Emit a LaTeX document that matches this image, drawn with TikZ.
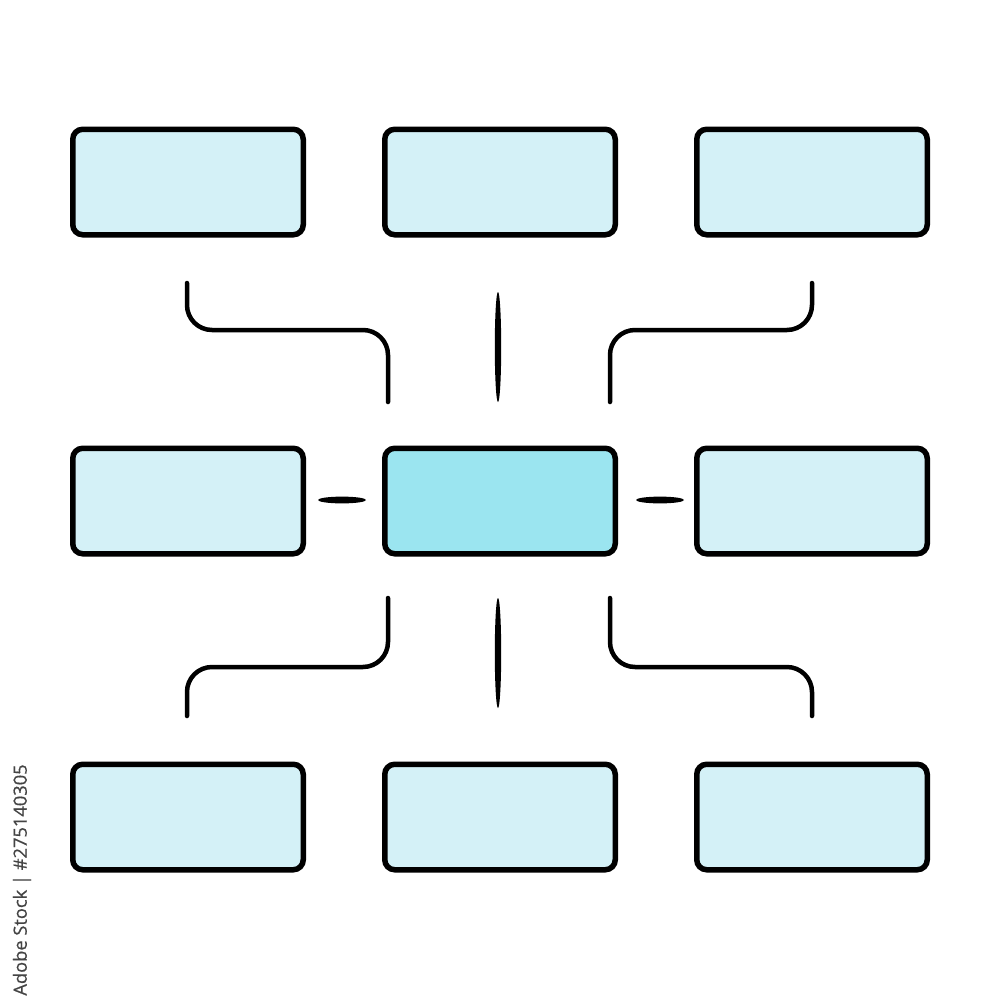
\documentclass[tikz,border=0pt]{standalone}
\usepackage{fontspec}
\newfontfamily\stockfont[FakeBold=0.6]{Open Sans}
\definecolor{boxfill}{HTML}{D4F1F7}
\definecolor{centrefill}{HTML}{9BE5F0}
\definecolor{stockgrey}{HTML}{444444}
\tikzset{
  box/.style={draw=black,line width=0.55mm,rounded corners=1mm,fill=boxfill,
    minimum width=23.05mm,minimum height=10.55mm,inner sep=0pt},
  link/.style={line width=0.45mm,rounded corners=2.5mm,line cap=round}
}
\begin{document}
\begin{tikzpicture}[x=0.1mm,y=-0.1mm]
        \useasboundingbox (0,0) rectangle (1000,1000);
        %% boxes
        \foreach \name/\x/\y in {tl/188/182, tc/500/182, tr/812/182,
                                 ml/188/501, mr/812/501,
                                 bl/188/817, bc/500/817, br/812/817}
            \node[box] (\name) at (\x,\y) {};
        \node[box,fill=centrefill] (mc) at (500,501) {};
        %% curved links
        \coordinate (tlA) at (187,283); \coordinate (tlB) at (388,402);
        \coordinate (trA) at (812,283); \coordinate (trB) at (610,402);
        \coordinate (blA) at (388,598); \coordinate (blB) at (187,716);
        \coordinate (brA) at (610,598); \coordinate (brB) at (812,716);
        \draw[link] (tlA) -- (tlA |- 0,330) -- (tlB |- 0,330) -- (tlB);
        \draw[link] (trA) -- (trA |- 0,330) -- (trB |- 0,330) -- (trB);
        \draw[link] (blA) -- (blA |- 0,667) -- (blB |- 0,667) -- (blB);
        \draw[link] (brA) -- (brA |- 0,667) -- (brB |- 0,667) -- (brB);
        %% straight links
        \fill (498,347) ellipse (3.2 and 55);
        \fill (498,653) ellipse (3.2 and 55);
        \fill (342,500) ellipse (24 and 3.4);
        \fill (660,500) ellipse (24 and 3.4);
        %% stock line
        \node[rotate=90,text=stockgrey,font=\stockfont\fontsize{5.2}{6}\selectfont,
              inner sep=0pt] (stock) at (22,880) {Adobe Stock | \#275140305};
    \end{tikzpicture}
\end{document}
